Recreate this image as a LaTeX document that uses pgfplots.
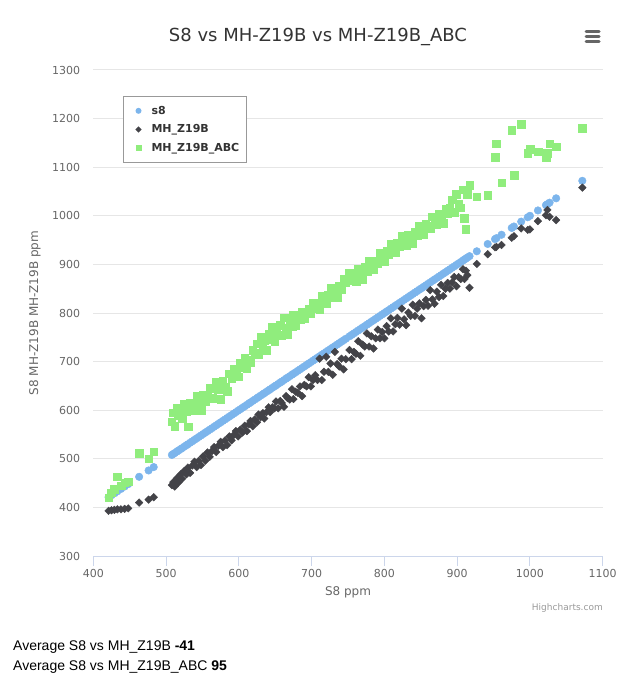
\documentclass[border=0pt]{standalone}
\usepackage{fontspec}
\setmainfont{DejaVu Sans}
\newfontfamily\arialfont{Liberation Sans}
\usepackage{pgfplots}
\usepackage{pgfplotstable}
\pgfplotsset{compat=1.18}
\definecolor{hcblue}{HTML}{7CB5EC}
\definecolor{hcdark}{HTML}{434348}
\definecolor{hcgreen}{HTML}{90ED7D}
\definecolor{gridc}{HTML}{E6E6E6}
\definecolor{axisc}{HTML}{CCD6EB}
\definecolor{labc}{HTML}{666666}
\definecolor{titc}{HTML}{333333}
\definecolor{legb}{HTML}{999999}

\pgfplotstableread{
x s8 mhz abc
421 421 393 420
425 425 394 430
429 429 395 437
433 433 396 463
438 438 396 445
443 443 397 451
448 448 398 453
463 463 410 511
476 476 416 500
483 483 421 515
508 508 446 576
510 510 452 595
512 512 443 567
515 515 460 605
517 517 451 589
520 520 468 600
522 522 459 584
525 525 475 613
528 528 468 598
530 530 482 566
533 533 471 615
536 536 486 601
539 539 494 599
542 542 483 630
545 545 496 617
548 548 487 600
551 551 505 631
554 554 496 618
557 557 513 632
560 560 504 646
563 563 516 625
566 566 524 644
569 569 514 659
572 572 527 642
575 575 535 623
578 578 524 660
581 581 538 647
584 584 528 639
587 587 546 675
590 590 538 665
593 593 549 685
596 596 557 676
599 599 546 669
602 602 560 697
605 605 554 689
608 608 568 708
611 611 557 687
614 614 571 704
616 616 578 698
619 619 567 724
622 622 581 717
625 625 575 737
627 627 591 715
630 630 586 750
633 633 594 731
635 635 583 743
638 638 596 723
641 641 606 756
643 643 596 745
646 646 606 771
649 649 604 741
651 651 618 761
654 654 604 754
657 657 619 775
659 659 615 754
662 662 607 790
665 665 629 770
667 667 625 757
670 670 622 782
673 673 643 773
675 675 623 795
678 678 638 774
681 681 636 789
684 684 649 786
687 687 629 802
690 690 652 788
693 693 649 799
696 696 668 808
699 699 649 799
702 702 662 820
705 705 672 809
708 708 662 818
711 711 706 807
714 714 662 834
717 717 679 825
720 720 710 820
723 723 679 838
726 726 696 851
729 729 673 833
732 732 720 844
735 735 695 833
738 738 690 856
741 741 706 849
744 744 684 869
747 747 705 862
752 752 724 882
755 755 705 867
758 758 720 878
761 761 716 866
764 764 742 890
767 767 712 882
770 770 735 870
773 773 731 895
776 776 758 886
779 779 731 907
782 782 752 898
785 785 727 889
788 788 748 908
791 791 766 903
794 794 748 924
797 797 761 915
800 800 748 906
803 803 773 927
806 806 762 920
809 809 789 941
812 812 762 932
815 815 777 925
818 818 790 944
821 821 776 937
824 824 809 959
827 827 787 949
830 830 775 940
833 833 801 961
836 836 794 954
839 839 817 943
842 842 794 967
845 845 809 960
848 848 820 978
851 851 789 971
854 854 814 962
857 857 827 983
860 860 815 978
863 863 847 975
866 866 828 998
869 869 819 991
872 872 844 982
875 875 833 1003
878 878 858 998
881 881 835 985
884 884 850 1014
887 887 862 1005
890 890 850 1016
893 893 863 1033
896 896 874 1008
899 899 855 1045
902 902 874 1024
905 905 870 1017
908 908 890 1054
910 910 870 995
912 912 887 972
914 914 878 1044
917 917 852 1063
927 927 901 1039
942 942 921 1043
952 952 935 1120
954 954 936 1148
961 961 940 1068
975 975 955 1176
978 978 958 1084
988 988 974 1189
997 997 971 1129
1000 1000 972 1137
1011 1011 989 1132
1022 1022 1001 1120
1024 1024 1012 1129
1027 1027 998 1148
1036 1036 991 1142
1072 1072 1058 1180
}\data

\begin{document}
\begin{tikzpicture}[x=1pt,y=1pt]
\useasboundingbox (0pt,0pt) rectangle (625pt,-690pt);
\begin{axis}[
  at={(93.3pt,-556pt)}, anchor=south west,
  width=509.4pt, height=486pt, scale only axis,
  xmin=400, xmax=1100, ymin=300, ymax=1300,
  xtick={400,500,...,1100}, ytick={300,400,...,1300},
  axis x line*=bottom, axis y line*=left,
  x axis line style={axisc, line width=1pt},
  y axis line style={draw=none},
  ytick style={draw=none},
  xtick style={axisc, line width=1pt},
  tick align=outside, major tick length=10pt,
  ymajorgrids, grid style={gridc, line width=1pt},
  /pgf/number format/.cd, set thousands separator={}, assume math mode=true,
  /pgfplots/.cd,
  tick label style={font=\fontsize{11}{13}\selectfont, text=labc},
  yticklabel style={inner sep=0pt, xshift=-3pt},
  xticklabel style={inner sep=0pt, yshift=-3pt},
  xlabel={S8 ppm}, ylabel={S8 MH-Z19B MH-Z19B ppm},
  every axis x label/.style={at={(axis description cs:0.5,0)}, anchor=center, yshift=-36pt, font=\fontsize{12}{14}\selectfont, text=labc},
  every axis y label/.style={at={(axis description cs:0,0.5)}, rotate=90, anchor=center, yshift=58.3pt, font=\fontsize{12}{14}\selectfont, text=labc},
  legend style={at={(0.0583,0.9465)}, anchor=north west, draw=legb, line width=1pt,
    font=\bfseries\fontsize{11}{13}\selectfont, text=titc, inner xsep=6pt, inner ysep=8.5pt, row sep=7pt,
    nodes={inner sep=1pt}},
  legend cell align=left,
]
\addplot[only marks, color=hcblue, mark=*, mark size=3.8pt,
  legend image code/.code={\path[draw=none, fill=none] (0pt,-4pt) rectangle (21pt,4pt); \fill[hcblue, draw=none] (9pt,0pt) circle (3pt);}]
  table[x=x, y=s8] {\data};
\addlegendentry{s8}
\addplot[only marks, color=hcdark, mark=square*, mark size=2.7pt, mark options={rotate=45},
  legend image code/.code={\path[draw=none, fill=none] (0pt,-4pt) rectangle (21pt,4pt); \fill[hcdark, draw=none] (9pt,3.2pt) -- (12.2pt,0pt) -- (9pt,-3.2pt) -- (5.8pt,0pt) -- cycle;}]
  table[x=x, y=mhz] {\data};
\addlegendentry{MH\_Z19B}
\addplot[only marks, color=hcgreen, mark=square*, mark size=3.8pt,
  legend image code/.code={\path[draw=none, fill=none] (0pt,-4pt) rectangle (21pt,4pt); \fill[hcgreen, draw=none] (6pt,-3pt) rectangle (12pt,3pt);}]
  table[x=x, y=abc] {\data};
\addlegendentry{MH\_Z19B\_ABC}
\end{axis}
\node[font=\fontsize{18}{20}\selectfont, text=titc] at (318pt,-36.5pt) {S8 vs MH-Z19B vs MH-Z19B\_ABC};
\foreach \yy in {-32,-37,-42} \draw[labc, line width=3pt, line cap=round] (586pt,\yy pt) -- (599pt,\yy pt);
\node[font=\fontsize{9}{11}\selectfont, text=legb, anchor=base east, inner sep=0pt] at (603pt,-610pt) {Highcharts.com};
\node[font=\arialfont\fontsize{14}{16}\selectfont, anchor=base west, inner sep=0pt] at (13pt,-650pt) {Average S8 vs MH\_Z19B \textbf{-41}};
\node[font=\arialfont\fontsize{14}{16}\selectfont, anchor=base west, inner sep=0pt] at (13pt,-670pt) {Average S8 vs MH\_Z19B\_ABC \textbf{95}};
\end{tikzpicture}
\end{document}
